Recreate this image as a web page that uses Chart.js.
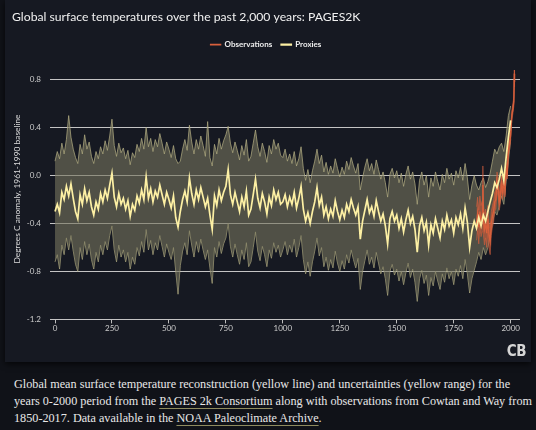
<!DOCTYPE html>
<html>
<head>
<meta charset="utf-8">
<script src="https://cdn.jsdelivr.net/npm/chart.js@4.4.1/dist/chart.umd.min.js"></script>
<style>
  html, body { margin: 0; padding: 0; background: #101218; width: 536px; height: 430px; overflow: hidden; }
  #panel { position: absolute; left: 5px; top: 0; width: 526px; height: 362px; background: #161922; box-shadow: 0 2px 6px rgba(0,0,0,0.7); }
  #chartBox { position: absolute; left: 0; top: 0; width: 526px; height: 362px; }
  #logo { position: absolute; right: 5px; bottom: 2px; font-family: "DejaVu Sans Condensed", "DejaVu Sans", sans-serif; font-weight: bold; font-size: 15px; color: #d6d6d6; letter-spacing: -0.5px; }
  #caption { position: absolute; left: 14px; top: 376px; width: 520px; font-family: "Liberation Serif", "DejaVu Serif", serif; font-size: 12.2px; line-height: 17px; color: #e8e8e8; white-space: nowrap; }
  #caption span.link { text-decoration: underline; text-decoration-color: #8f8c60; text-underline-offset: 3px; }
</style>
</head>
<body>
<div id="panel">
  <div id="chartBox"><canvas id="tempChart"></canvas></div>
  <div id="logo">CB</div>
</div>
<div id="caption">
  Global mean surface temperature reconstruction (yellow line) and uncertainties (yellow range) for the<br>
  years 0-2000 period from the <span class="link">PAGES 2k Consortium</span> along with observations from Cowtan and Way from<br>
  1850-2017. Data available in the <span class="link">NOAA Paleoclimate Archive</span>.
</div>
<script>
// proxy reconstruction, one value every 10 years from year 0 to 2000
const proxyYears = Array.from({ length: 201 }, (_, i) => i * 10);

const proxyMedian = [
  -0.30, -0.24, -0.31, -0.14, -0.20, -0.09, -0.17, -0.07, -0.19, -0.30,
  -0.36, -0.16, -0.24, -0.11, -0.21, -0.14, -0.26, -0.33, -0.22, -0.28,
  -0.15, -0.22, -0.12, -0.19, -0.08, 0.02, -0.18, -0.26, -0.15, -0.24,
  -0.19, -0.28, -0.21, -0.34, -0.24, -0.29, -0.17, -0.23, -0.12, -0.20,
  -0.01, -0.19, -0.11, -0.22, -0.13, -0.18, -0.08, -0.16, -0.24, -0.14,
  -0.20, -0.27, -0.17, -0.35, -0.43, -0.30, -0.20, -0.13, -0.22, -0.02,
  -0.15, -0.24, -0.12, -0.20, -0.10, -0.18, -0.26, -0.19, -0.33, -0.45,
  -0.17, -0.25, -0.12, -0.21, -0.14, -0.09, 0.05, -0.16, -0.24, -0.14,
  -0.22, -0.30, -0.18, -0.26, -0.13, -0.33, -0.28, -0.16, -0.03, -0.19,
  -0.27, -0.15, -0.22, -0.32, -0.18, -0.25, -0.12, -0.20, -0.14, -0.24,
  -0.22, -0.16, -0.26, -0.18, -0.24, -0.14, -0.27, -0.19, -0.09, -0.28,
  -0.38, -0.31, -0.40, -0.30, -0.22, -0.10, -0.25, -0.18, -0.33, -0.26,
  -0.36, -0.28, -0.34, -0.21, -0.30, -0.37, -0.29, -0.35, -0.24, -0.30,
  -0.20, -0.27, -0.33, -0.26, -0.53, -0.38, -0.29, -0.20, -0.31, -0.26,
  -0.34, -0.21, -0.30, -0.38, -0.32, -0.42, -0.57, -0.36, -0.30, -0.38,
  -0.33, -0.44, -0.36, -0.47, -0.37, -0.29, -0.40, -0.34, -0.45, -0.64,
  -0.42, -0.35, -0.46, -0.39, -0.58, -0.41, -0.48, -0.36, -0.44, -0.52,
  -0.38, -0.45, -0.33, -0.42, -0.37, -0.48, -0.35, -0.41, -0.32, -0.44,
  -0.27, -0.39, -0.60, -0.46, -0.38, -0.44, -0.35, -0.42, -0.33, -0.38,
  -0.30, -0.22, -0.15, -0.06, -0.10, -0.03, 0.06, -0.04, 0.15, 0.32,
  0.46
];

const proxyUpper = [
  0.12, 0.20, 0.14, 0.27, 0.18, 0.30, 0.50, 0.32, 0.22, 0.15,
  0.10, 0.26, 0.18, 0.34, 0.22, 0.28, 0.16, 0.10, 0.20, 0.14,
  0.24, 0.18, 0.29, 0.21, 0.33, 0.47, 0.25, 0.16, 0.27, 0.19,
  0.23, 0.14, 0.21, 0.09, 0.19, 0.15, 0.26, 0.20, 0.31, 0.22,
  0.40, 0.24, 0.31, 0.20, 0.30, 0.24, 0.35, 0.27, 0.18, 0.28,
  0.22, 0.15, 0.25, 0.14, 0.10, 0.12, 0.22, 0.30, 0.21, 0.42,
  0.28, 0.18, 0.30, 0.22, 0.33, 0.25, 0.16, 0.45, 0.15, 0.08,
  0.26, 0.18, 0.31, 0.22, 0.29, 0.34, 0.41, 0.27, 0.19, 0.28,
  0.21, 0.13, 0.25, 0.17, 0.30, 0.12, 0.16, 0.27, 0.38, 0.24,
  0.16, 0.27, 0.20, 0.11, 0.25, 0.18, 0.30, 0.22, 0.27, 0.17,
  0.15, 0.22, 0.12, 0.18, 0.10, 0.20, 0.08, 0.14, 0.24, 0.06,
  -0.04, 0.05, -0.06, 0.04, 0.12, 0.22, 0.10, 0.17, 0.03, 0.11,
  0.01, 0.08, 0.02, 0.14, 0.06, -0.01, 0.07, 0.01, 0.12, 0.05,
  0.15, 0.08, 0.02, 0.10, -0.12, -0.02, 0.07, 0.14, 0.04, 0.10,
  0.01, 0.13, 0.05, -0.03, 0.03, -0.06, -0.18, 0.01, 0.06, -0.02,
  0.04, -0.06, 0.02, -0.09, 0.01, 0.08, -0.03, 0.03, -0.07, -0.24,
  -0.04, 0.03, -0.08, 0.00, -0.18, -0.02, -0.09, 0.03, -0.05, -0.12,
  0.01, -0.06, 0.06, -0.03, 0.02, -0.08, 0.04, -0.02, 0.07, -0.04,
  0.10, -0.02, -0.20, -0.08, 0.00, -0.08, -0.12, -0.06, -0.02, -0.10,
  -0.05, 0.02, 0.12, 0.22, 0.18, 0.24, 0.27, 0.20, 0.33, 0.50,
  0.58
];

const proxyLower = [
  -0.72, -0.66, -0.78, -0.58, -0.66, -0.52, -0.62, -0.50, -0.63, -0.74,
  -0.80, -0.60, -0.70, -0.55, -0.66, -0.57, -0.70, -0.78, -0.64, -0.72,
  -0.58, -0.66, -0.55, -0.62, -0.50, -0.42, -0.62, -0.72, -0.58, -0.68,
  -0.62, -0.72, -0.64, -0.78, -0.68, -0.74, -0.60, -0.67, -0.55, -0.64,
  -0.45, -0.62, -0.54, -0.66, -0.56, -0.62, -0.50, -0.59, -0.68, -0.57,
  -0.64, -0.70, -0.60, -0.80, -0.99, -0.75, -0.63, -0.56, -0.66, -0.46,
  -0.58, -0.68, -0.55, -0.64, -0.53, -0.62, -0.70, -0.62, -0.77, -0.90,
  -0.60, -0.68, -0.55, -0.65, -0.57, -0.52, -0.40, -0.59, -0.68, -0.57,
  -0.66, -0.74, -0.62, -0.70, -0.56, -0.76, -0.72, -0.60, -0.47, -0.63,
  -0.71, -0.59, -0.66, -0.76, -0.62, -0.69, -0.56, -0.64, -0.58, -0.68,
  -0.62, -0.55, -0.66, -0.58, -0.64, -0.53, -0.68, -0.60, -0.50, -0.70,
  -0.82, -0.72, -0.84, -0.72, -0.63, -0.52, -0.67, -0.60, -0.76, -0.68,
  -0.79, -0.70, -0.77, -0.63, -0.73, -0.80, -0.71, -0.78, -0.66, -0.73,
  -0.62, -0.70, -0.77, -0.69, -0.95, -0.80, -0.71, -0.62, -0.74, -0.68,
  -0.77, -0.64, -0.73, -0.82, -0.76, -0.86, -1.00, -0.80, -0.74, -0.83,
  -0.78, -0.88, -0.80, -0.91, -0.81, -0.73, -0.85, -0.78, -0.89, -1.05,
  -0.86, -0.79, -0.90, -0.83, -1.00, -0.85, -0.92, -0.80, -0.88, -0.95,
  -0.82, -0.89, -0.77, -0.86, -0.80, -0.91, -0.78, -0.84, -0.75, -0.86,
  -0.70, -0.82, -0.98, -0.86, -0.79, -0.72, -0.64, -0.70, -0.60, -0.66,
  -0.60, -0.50, -0.40, -0.30, -0.33, -0.25, -0.17, -0.24, -0.05, 0.12,
  0.30
];

// instrumental observations (Cowtan and Way)
const obsYears = [
  1850, 1855, 1860, 1865, 1870, 1875, 1878, 1880, 1885, 1890,
  1895, 1900, 1905, 1910, 1915, 1920, 1925, 1930, 1935, 1940,
  1945, 1950, 1955, 1960, 1965, 1970, 1975, 1980, 1985, 1990,
  1995, 2000, 2005, 2010, 2014, 2016, 2017
];
const obsValues = [
  -0.40, -0.32, -0.43, -0.30, -0.38, -0.34, -0.08, -0.36, -0.45, -0.40,
  -0.48, -0.36, -0.50, -0.55, -0.40, -0.34, -0.30, -0.22, -0.20, -0.05,
  -0.10, -0.22, -0.16, -0.06, -0.14, -0.06, -0.12, 0.06, 0.02, 0.22,
  0.26, 0.34, 0.50, 0.56, 0.62, 0.85, 0.78
];
const obsHigh = [
  -0.26, -0.18, -0.29, -0.17, -0.25, -0.21, 0.08, -0.23, -0.32, -0.28,
  -0.36, -0.25, -0.39, -0.44, -0.30, -0.25, -0.21, -0.14, -0.12, 0.03,
  -0.02, -0.15, -0.09, 0.00, -0.08, 0.00, -0.06, 0.11, 0.07, 0.27,
  0.31, 0.38, 0.54, 0.60, 0.66, 0.88, 0.82
];
const obsLow = [
  -0.54, -0.46, -0.57, -0.43, -0.51, -0.47, -0.22, -0.49, -0.58, -0.52,
  -0.60, -0.47, -0.61, -0.66, -0.50, -0.43, -0.39, -0.30, -0.28, -0.13,
  -0.18, -0.29, -0.23, -0.12, -0.20, -0.12, -0.18, 0.01, -0.03, 0.17,
  0.21, 0.30, 0.46, 0.52, 0.58, 0.81, 0.74
];

const xTicks = [0, 250, 500, 750, 1000, 1250, 1500, 1750, 2000];
const yTicks = [-1.2, -0.8, -0.4, 0.0, 0.4, 0.8];
const legendNames = ["Observations", "Proxies"];

const toPoints = (years, vals) => years.map((yr, i) => ({ x: yr, y: vals[i] }));

const uiFont = "Lato, 'Open Sans', sans-serif";

const ctx = document.getElementById("tempChart").getContext("2d");
new Chart(ctx, {
  type: "line",
  data: {
    datasets: [
      {
        label: "Observations",
        data: toPoints(obsYears, obsValues),
        borderColor: "#d8603c",
        backgroundColor: "#c4553a",
        borderWidth: 1.4,
        pointRadius: 0,
        order: 1,
      },
      {
        label: "Proxies",
        data: toPoints(proxyYears, proxyMedian),
        borderColor: "#fdf0a4",
        backgroundColor: "#f4f0dc",
        borderWidth: 1.7,
        pointRadius: 0,
        order: 0,
      },
      {
        label: "Observations high",
        data: toPoints(obsYears, obsHigh),
        borderColor: "rgba(214,96,62,0.7)",
        borderWidth: 0.8,
        backgroundColor: "rgba(206,92,58,0.6)",
        fill: "+1",
        pointRadius: 0,
        order: 2,
      },
      {
        label: "Observations low",
        data: toPoints(obsYears, obsLow),
        borderColor: "rgba(214,96,62,0.7)",
        borderWidth: 0.8,
        pointRadius: 0,
        order: 2,
      },
      {
        label: "Proxies upper",
        data: toPoints(proxyYears, proxyUpper),
        borderColor: "rgba(175,170,128,0.75)",
        borderWidth: 1,
        backgroundColor: "rgba(116,114,92,0.62)",
        fill: "+1",
        pointRadius: 0,
        order: 3,
      },
      {
        label: "Proxies lower",
        data: toPoints(proxyYears, proxyLower),
        borderColor: "rgba(175,170,128,0.75)",
        borderWidth: 1,
        pointRadius: 0,
        order: 3,
      },
    ],
  },
  options: {
    responsive: true,
    maintainAspectRatio: false,
    animation: false,
    layout: { padding: { left: 7, right: 11, top: 0, bottom: 29 } },
    plugins: {
      title: {
        display: true,
        text: "Global surface temperatures over the past 2,000 years: PAGES2K",
        align: "start",
        color: "#f0f0f0",
        font: { family: uiFont, size: 12.2, weight: "normal" },
        padding: { top: 10, bottom: 7 },
      },
      legend: {
        display: true,
        position: "top",
        labels: {
          filter: (item) => legendNames.includes(item.text),
          sort: (a, b) => a.datasetIndex - b.datasetIndex,
          color: "#eeeeee",
          boxWidth: 10,
          boxHeight: 0.5,
          padding: 9,
          font: { family: uiFont, size: 8, weight: "bold" },
        },
      },
      tooltip: { enabled: false },
    },
    scales: {
      x: {
        type: "linear",
        min: -22,
        max: 2041,
        afterBuildTicks: (scale) => {
          scale.ticks = xTicks.map((v) => ({ value: v }));
        },
        grid: {
          display: true,
          drawOnChartArea: false,
          drawTicks: true,
          tickLength: 4,
          color: "#bdbdbd",
        },
        border: { display: false },
        ticks: {
          color: "#cccccc",
          padding: 0,
          maxRotation: 0,
          font: { family: uiFont, size: 8 },
          callback: (v) => String(v),
        },
      },
      y: {
        type: "linear",
        min: -1.2,
        max: 0.975,
        afterBuildTicks: (scale) => {
          scale.ticks = yTicks.map((v) => ({ value: v }));
        },
        afterFit: (scale) => {
          scale.width = 38;
        },
        grid: { color: "#c4c4c4", lineWidth: 1, drawTicks: false },
        border: { display: false },
        ticks: {
          color: "#cccccc",
          padding: 9,
          font: { family: uiFont, size: 8 },
          callback: (v) => v.toFixed(1),
        },
        title: {
          display: true,
          text: "Degrees C anomaly, 1961-1990 baseline",
          color: "#dddddd",
          font: { family: uiFont, size: 8.4 },
          padding: 0,
        },
      },
    },
  },
});
</script>
</body>
</html>
